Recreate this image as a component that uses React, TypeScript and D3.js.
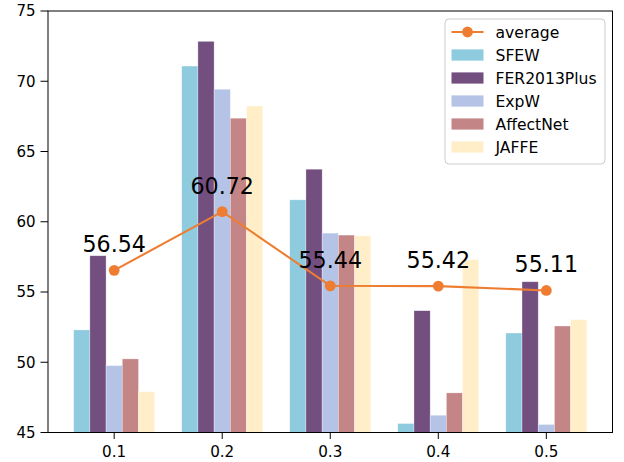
import React from "react";
import * as d3 from "d3";

const categories = ["0.1", "0.2", "0.3", "0.4", "0.5"];
const seriesNames = ["SFEW", "FER2013Plus", "ExpW", "AffectNet", "JAFFE"];
const sfew = [52.3, 71.08, 61.56, 45.64, 52.08];
const fer2013plus = [57.58, 72.84, 63.74, 53.67, 55.73];
const expw = [49.76, 69.43, 59.19, 46.23, 45.57];
const affectnet = [50.24, 67.37, 59.05, 47.82, 52.58];
const jaffe = [47.9, 68.24, 59.0, 57.3, 53.03];
const average = [56.54, 60.72, 55.44, 55.42, 55.11];
const yTicks = [45, 50, 55, 60, 65, 70, 75];

const seriesValues = [sfew, fer2013plus, expw, affectnet, jaffe];
const colors = ["#8ECBDF", "#734F80", "#B4C3E6", "#C38585", "#FFEEC8"];
const orange = "#EE7D31";

const W = 624;
const H = 462;
const left = 48;
const right = 612.5;
const top = 11;
const bottom = 432.5;
const barW = 0.15;

export default function App() {
  const x = d3.scaleLinear().domain([-0.6125, 4.6125]).range([left, right]);
  const y = d3.scaleLinear().domain([45, 75]).range([bottom, top]);
  const bw = x(barW) - x(0);
  const line = d3
    .line<number>()
    .x((_, i) => x(i))
    .y((d) => y(d));
  const font = "DejaVu Sans, sans-serif";
  const legendItems = ["average", ...seriesNames];
  const lx = 445;
  const ly = 19;
  const rowY = (i: number) => 32 + i * 23;

  return (
    <svg
      width={W}
      height={H}
      style={{ position: "absolute", left: 0, top: 0, background: "#fff" }}
      fontFamily={font}
    >
      <rect x={0} y={0} width={W} height={H} fill="#fff" />
      {seriesValues.map((vals, s) =>
        vals.map((v, i) => {
          const cx = x(i + (s - 2) * barW);
          return (
            <rect
              key={`b${s}-${i}`}
              x={cx - bw / 2}
              y={y(v)}
              width={bw}
              height={y(45) - y(v)}
              fill={colors[s]}
              stroke="#ffffff"
              strokeOpacity={0.5}
              strokeWidth={0.6}
            />
          );
        })
      )}
      <path d={line(average) || ""} fill="none" stroke={orange} strokeWidth={2.1} />
      {average.map((v, i) => (
        <circle key={`m${i}`} cx={x(i)} cy={y(v)} r={5.4} fill={orange} />
      ))}
      {average.map((v, i) => (
        <text
          key={`t${i}`}
          x={x(i)}
          y={y(v) - 18}
          textAnchor="middle"
          fontSize={22.2}
          fill="#000"
        >
          {v.toFixed(2)}
        </text>
      ))}
      {/* axes frame */}
      <rect x={left} y={top} width={right - left} height={bottom - top} fill="none" stroke="#000" strokeWidth={1} />
      {yTicks.map((t) => (
        <g key={`yt${t}`}>
          <line x1={left - 7.5} x2={left} y1={y(t)} y2={y(t)} stroke="#000" strokeWidth={1} />
          <text x={left - 12.5} y={y(t) + 5.4} textAnchor="end" fontSize={15} fill="#000">
            {t}
          </text>
        </g>
      ))}
      {categories.map((c, i) => (
        <g key={`xt${i}`}>
          <line x1={x(i)} x2={x(i)} y1={bottom} y2={bottom + 6.5} stroke="#000" strokeWidth={1} />
          <text x={x(i)} y={457} textAnchor="middle" fontSize={15.2} fill="#000">
            {c}
          </text>
        </g>
      ))}
      {/* legend */}
      <rect
        x={lx}
        y={ly}
        width={160}
        height={145}
        rx={4}
        fill="#fff"
        fillOpacity={0.8}
        stroke="#cccccc"
        strokeWidth={1}
      />
      {legendItems.map((name, i) => {
        const cy = rowY(i);
        return (
          <g key={`lg${i}`}>
            {i === 0 ? (
              <>
                <line x1={451.5} x2={483.5} y1={cy} y2={cy} stroke={orange} strokeWidth={2.1} />
                <circle cx={467.5} cy={cy} r={5.4} fill={orange} />
              </>
            ) : (
              <rect x={451.5} y={cy - 5.6} width={32} height={11.2} fill={colors[i - 1]} />
            )}
            <text x={495.5} y={cy + 5.6} fontSize={15.6} fill="#000">
              {name}
            </text>
          </g>
        );
      })}
    </svg>
  );
}
